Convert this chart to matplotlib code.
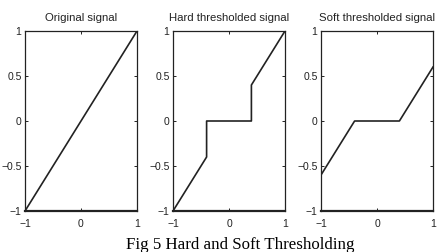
import matplotlib.pyplot as plt

# data
orig_x = [-1, 1]
orig_y = [-1, 1]
hard_x = [-1, -0.4, -0.4, 0.4, 0.4, 1]
hard_y = [-1, -0.4, 0, 0, 0.4, 1]
soft_x = [-1, -0.4, 0.4, 1]
soft_y = [-0.6, 0, 0, 0.6]
titles = ["Original signal", "Hard thresholded signal", "Soft thresholded signal"]
xticks = [-1, 0, 1]
yticks = [-1, -0.5, 0, 0.5, 1]
ytick_labels = ["\u22121", "\u22120.5", "0", "0.5", "1"]
xtick_labels = ["\u22121", "0", "1"]

plt.rcParams['font.family'] = ['Liberation Sans', 'DejaVu Sans']

fig = plt.figure(figsize=(4.44, 2.52), dpi=100)
lefts = [25, 173, 321]
series = [(orig_x, orig_y), (hard_x, hard_y), (soft_x, soft_y)]

for i, (sx, sy) in enumerate(series):
    ax = fig.add_axes([lefts[i] / 444, 1 - 211 / 252, 112 / 444, 180 / 252])
    ax.plot(sx, sy, color='#222222', lw=1.2)
    ax.set_xlim(-1, 1)
    ax.set_ylim(-1, 1)
    ax.set_xticks(xticks)
    ax.set_xticklabels(xtick_labels)
    ax.set_yticks(yticks)
    ax.set_yticklabels(ytick_labels)
    ax.tick_params(direction='in', top=True, right=True, length=2.5, width=0.7,
                   labelsize=7.5, colors='#222222')
    ax.tick_params(axis='x', pad=5.5)
    ax.tick_params(axis='y', pad=2.5)
    for s in ax.spines.values():
        s.set_linewidth(0.9)
        s.set_color('#222222')
    ax.spines['bottom'].set_linewidth(1.6)
    ax.set_title(titles[i], fontsize=8.2, pad=7, color='#222222')

fig.text(0.54, 3 / 252, "Fig 5 Hard and Soft Thresholding", ha='center', va='baseline',
         fontsize=12.2, family='Liberation Serif')

fig.savefig("out.png", dpi=100)
